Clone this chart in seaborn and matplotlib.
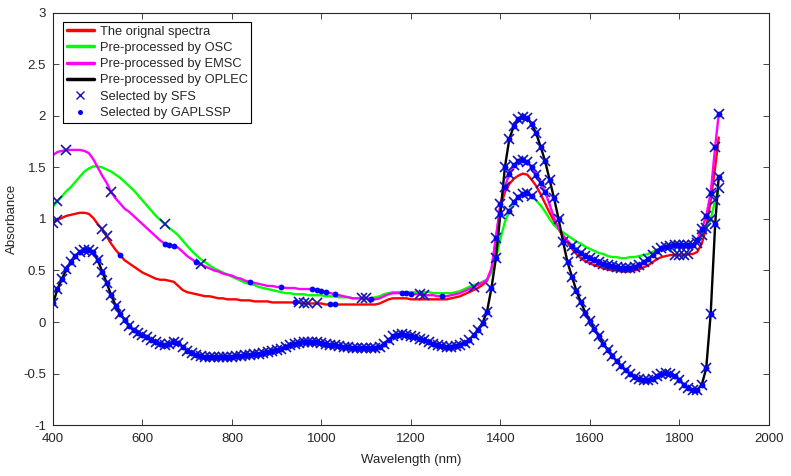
import matplotlib
matplotlib.use('Agg')
import matplotlib.pyplot as plt
from matplotlib.lines import Line2D
from matplotlib.ticker import FuncFormatter, MultipleLocator
import seaborn as sns

# wavelength grid (nm): every 10 nm up to 1880, last sample at 1888
wavelengths = list(range(400, 1881, 10)) + [1888]

original = [
    0.96, 0.99, 1.01, 1.03, 1.04, 1.05, 1.06, 1.06, 1.05, 1.01,
    0.95, 0.90, 0.83, 0.76, 0.70, 0.65, 0.60, 0.57, 0.54, 0.51,
    0.48, 0.46, 0.44, 0.42, 0.41, 0.41, 0.40, 0.39, 0.35, 0.31,
    0.29, 0.28, 0.27, 0.26, 0.25, 0.25, 0.24, 0.23, 0.23, 0.22,
    0.22, 0.22, 0.21, 0.21, 0.21, 0.20, 0.20, 0.20, 0.20, 0.19,
    0.19, 0.19, 0.19, 0.19, 0.19, 0.19, 0.18, 0.18, 0.18, 0.18,
    0.18, 0.17, 0.17, 0.17, 0.17, 0.17, 0.17, 0.17, 0.17, 0.17,
    0.17, 0.17, 0.17, 0.18, 0.20, 0.22, 0.23, 0.23, 0.23, 0.23,
    0.22, 0.22, 0.22, 0.22, 0.22, 0.22, 0.22, 0.22, 0.22, 0.23,
    0.24, 0.25, 0.27, 0.29, 0.31, 0.33, 0.36, 0.40, 0.50, 0.80,
    1.12, 1.26, 1.34, 1.39, 1.42, 1.44, 1.43, 1.38, 1.32, 1.24,
    1.15, 1.06, 0.98, 0.90, 0.83, 0.77, 0.71, 0.66, 0.62, 0.59,
    0.57, 0.55, 0.54, 0.52, 0.51, 0.50, 0.50, 0.49, 0.49, 0.49,
    0.50, 0.51, 0.53, 0.55, 0.58, 0.61, 0.63, 0.64, 0.65, 0.65,
    0.65, 0.65, 0.66, 0.66, 0.68, 0.76, 0.91, 1.18, 1.50, 1.79,
]

osc = [
    1.12, 1.17, 1.22, 1.27, 1.31, 1.36, 1.41, 1.46, 1.49, 1.51,
    1.51, 1.50, 1.48, 1.46, 1.43, 1.40, 1.36, 1.32, 1.28, 1.23,
    1.18, 1.13, 1.08, 1.03, 0.99, 0.95, 0.91, 0.88, 0.84, 0.79,
    0.74, 0.69, 0.65, 0.61, 0.58, 0.55, 0.52, 0.50, 0.48, 0.46,
    0.44, 0.42, 0.40, 0.38, 0.37, 0.36, 0.34, 0.33, 0.32, 0.31,
    0.30, 0.29, 0.28, 0.28, 0.27, 0.27, 0.27, 0.26, 0.26, 0.26,
    0.26, 0.25, 0.25, 0.25, 0.24, 0.24, 0.24, 0.23, 0.23, 0.23,
    0.23, 0.23, 0.24, 0.25, 0.27, 0.28, 0.29, 0.29, 0.29, 0.29,
    0.29, 0.29, 0.29, 0.29, 0.29, 0.28, 0.28, 0.28, 0.28, 0.28,
    0.29, 0.30, 0.32, 0.34, 0.36, 0.37, 0.39, 0.41, 0.48, 0.62,
    0.81, 0.97, 1.08, 1.16, 1.21, 1.24, 1.25, 1.22, 1.18, 1.13,
    1.07, 1.00, 0.94, 0.90, 0.87, 0.84, 0.81, 0.78, 0.76, 0.73,
    0.71, 0.69, 0.67, 0.66, 0.64, 0.63, 0.63, 0.62, 0.62, 0.63,
    0.63, 0.64, 0.65, 0.66, 0.68, 0.70, 0.72, 0.74, 0.75, 0.75,
    0.75, 0.74, 0.73, 0.73, 0.77, 0.84, 0.91, 1.00, 1.18, 1.30,
]

emsc = [
    1.62, 1.65, 1.66, 1.67, 1.67, 1.67, 1.67, 1.66, 1.64, 1.58,
    1.50, 1.42, 1.35, 1.26, 1.20, 1.15, 1.10, 1.07, 1.03, 0.99,
    0.95, 0.91, 0.87, 0.83, 0.79, 0.76, 0.75, 0.74, 0.72, 0.68,
    0.64, 0.61, 0.58, 0.56, 0.54, 0.52, 0.50, 0.49, 0.47, 0.46,
    0.45, 0.43, 0.42, 0.40, 0.39, 0.38, 0.37, 0.36, 0.35, 0.35,
    0.34, 0.34, 0.33, 0.33, 0.33, 0.32, 0.32, 0.32, 0.32, 0.31,
    0.30, 0.29, 0.28, 0.27, 0.26, 0.25, 0.24, 0.23, 0.23, 0.23,
    0.23, 0.22, 0.22, 0.23, 0.25, 0.27, 0.28, 0.28, 0.28, 0.28,
    0.27, 0.27, 0.27, 0.26, 0.26, 0.26, 0.25, 0.25, 0.25, 0.26,
    0.27, 0.28, 0.30, 0.32, 0.34, 0.36, 0.38, 0.41, 0.52, 0.82,
    1.15, 1.31, 1.44, 1.52, 1.56, 1.57, 1.55, 1.50, 1.43, 1.35,
    1.26, 1.14, 1.01, 0.91, 0.84, 0.79, 0.74, 0.70, 0.67, 0.64,
    0.62, 0.60, 0.58, 0.56, 0.55, 0.54, 0.53, 0.52, 0.52, 0.52,
    0.53, 0.55, 0.58, 0.61, 0.65, 0.69, 0.72, 0.73, 0.74, 0.75,
    0.75, 0.75, 0.75, 0.75, 0.80, 0.90, 1.03, 1.25, 1.70, 2.02,
]

oplec = [
    0.18, 0.32, 0.42, 0.51, 0.58, 0.64, 0.68, 0.70, 0.70, 0.68,
    0.60, 0.49, 0.38, 0.26, 0.16, 0.08, 0.02, -0.04, -0.08, -0.11,
    -0.13, -0.15, -0.17, -0.19, -0.21, -0.22, -0.21, -0.19, -0.20, -0.24,
    -0.28, -0.30, -0.32, -0.33, -0.34, -0.34, -0.34, -0.34, -0.34, -0.34,
    -0.34, -0.33, -0.33, -0.32, -0.32, -0.31, -0.31, -0.30, -0.29, -0.28,
    -0.27, -0.26, -0.24, -0.22, -0.21, -0.20, -0.19, -0.19, -0.19, -0.19,
    -0.20, -0.21, -0.22, -0.22, -0.23, -0.24, -0.24, -0.25, -0.25, -0.25,
    -0.25, -0.25, -0.25, -0.24, -0.21, -0.17, -0.14, -0.13, -0.12, -0.13,
    -0.14, -0.15, -0.16, -0.17, -0.19, -0.21, -0.22, -0.23, -0.24, -0.24,
    -0.23, -0.22, -0.20, -0.17, -0.13, -0.08, -0.01, 0.10, 0.33, 0.62,
    1.05, 1.50, 1.78, 1.90, 1.97, 1.99, 1.98, 1.92, 1.83, 1.70,
    1.56, 1.38, 1.20, 1.00, 0.78, 0.58, 0.44, 0.30, 0.19, 0.09,
    0.01, -0.07, -0.14, -0.21, -0.27, -0.33, -0.38, -0.43, -0.47, -0.50,
    -0.53, -0.55, -0.56, -0.56, -0.55, -0.52, -0.50, -0.49, -0.50, -0.52,
    -0.56, -0.61, -0.64, -0.66, -0.66, -0.61, -0.45, 0.08, 0.95, 1.41,
]

# selected wavelengths per curve (SFS = x markers, GAPLSSP = dots)
peak_band = list(range(1390, 1501, 10))
tail_band = list(range(1560, 1881, 10)) + [1888]
sfs_original = [400, 410, 510, 520, 950, 960, 970, 990, 1790, 1800, 1810, 1820]
gap_original = [550, 940, 1020, 1030]
sfs_osc = [410, 650, 1420, 1430, 1440, 1450, 1460, 1470, 1840, 1850, 1860, 1870, 1880, 1888]
gap_osc = [1420, 1430, 1440, 1450, 1460, 1470]
sfs_emsc = [430, 530, 730, 1090, 1100, 1220, 1230, 1340] + peak_band + tail_band
gap_emsc = [650, 660, 670, 720, 840, 910, 980, 990, 1000, 1010, 1030, 1110,
            1180, 1190, 1200, 1270] + peak_band + tail_band
sfs_oplec = wavelengths
gap_oplec = wavelengths

sns.set_style('ticks')
plt.rcParams['font.family'] = ['Liberation Sans', 'DejaVu Sans']
plt.rcParams['xtick.direction'] = 'in'
plt.rcParams['ytick.direction'] = 'in'

fig = plt.figure(figsize=(7.91, 4.76), dpi=100)
ax = fig.add_axes([0.067, 0.107, 0.905, 0.866])

curves = [
    ('The orignal spectra', original, '#ff0000', sfs_original, gap_original),
    ('Pre-processed by OSC', osc, '#00ff00', sfs_osc, gap_osc),
    ('Pre-processed by EMSC', emsc, '#ff00ff', sfs_emsc, gap_emsc),
    ('Pre-processed by OPLEC', oplec, '#000000', sfs_oplec, gap_oplec),
]

for label, vals, color, _, _ in curves:
    sns.lineplot(x=wavelengths, y=vals, color=color, linewidth=1.7, sort=False,
                 ax=ax, legend=False)

# selected variables sit on top of the spectra: crosses first, then dots
xcol = '#1414b4'
dcol = '#0000ff'
for label, vals, color, sfs, gap in curves:
    lookup = dict(zip(wavelengths, vals))
    ax.plot(sfs, [lookup[w] for w in sfs], linestyle='none', marker='x',
            color=xcol, markersize=7.5, markeredgewidth=1.2)
for label, vals, color, sfs, gap in curves:
    lookup = dict(zip(wavelengths, vals))
    ax.plot(gap, [lookup[w] for w in gap], linestyle='none', marker='o',
            color=dcol, markersize=4.2, markeredgewidth=0)

handles = [Line2D([], [], color=c, linewidth=2.5, label=l) for l, _, c, _, _ in curves]
handles.append(Line2D([], [], linestyle='none', marker='x', color=xcol,
                      markersize=6, label='Selected by SFS'))
handles.append(Line2D([], [], linestyle='none', marker='o', color=dcol,
                      markersize=3.6, markeredgewidth=0, label='Selected by GAPLSSP'))
leg = ax.legend(handles=handles, loc='upper left', bbox_to_anchor=(0.01, 0.985),
                fontsize=9.3, frameon=True, fancybox=False, framealpha=1,
                edgecolor='black', borderpad=0.3, labelspacing=0.33,
                handlelength=2.1, handletextpad=0.45, borderaxespad=0.2)
leg.get_frame().set_linewidth(0.8)

ax.set_xlim(400, 2000)
ax.set_ylim(-1, 3)
ax.xaxis.set_major_locator(MultipleLocator(200))
ax.yaxis.set_major_locator(MultipleLocator(0.5))
ax.yaxis.set_major_formatter(FuncFormatter(lambda v, p: f'{v:g}'))
ax.tick_params(axis='both', labelsize=9.5, length=4, width=0.6, colors='#262626',
               top=True, right=True)
ax.tick_params(axis='x', pad=6)
ax.tick_params(axis='y', pad=5)
for s in ax.spines.values():
    s.set_linewidth(0.8)
    s.set_color('#262626')

ax.set_xlabel('Wavelength (nm)', fontsize=9.5, color='#262626', labelpad=6)
ax.set_ylabel('Absorbance', fontsize=9.5, color='#262626', labelpad=4)

plt.savefig('out.png', dpi=100)
